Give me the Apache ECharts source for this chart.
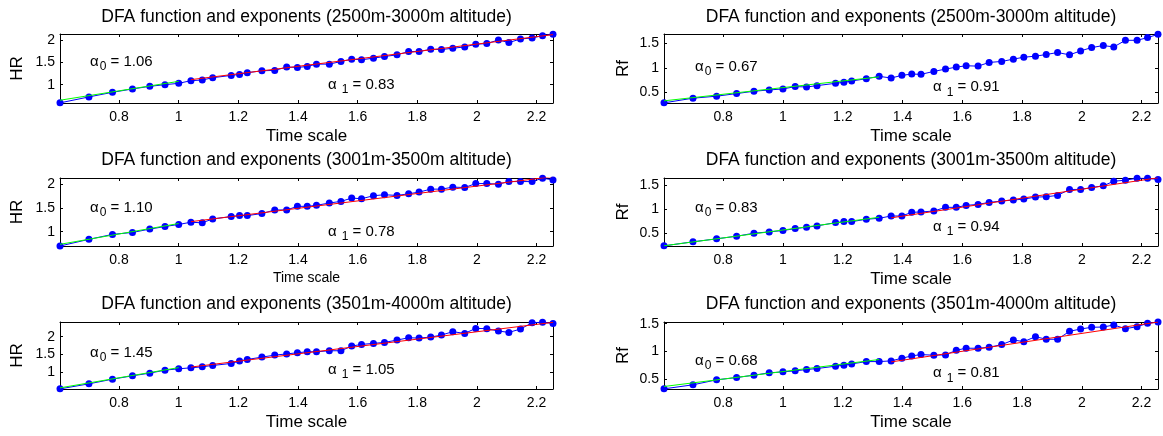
<!DOCTYPE html>
<html>
<head>
<meta charset="utf-8">
<title>DFA function and exponents</title>
<script src="https://cdn.jsdelivr.net/npm/echarts@6/dist/echarts.min.js"></script>
<style>
  html, body { margin: 0; padding: 0; background: #fff; }
  #chart { width: 1163px; height: 436px; }
</style>
</head>
<body>
<div id="chart"></div>
<script>
// log10 of the DFA box sizes (n = 4 ... 180)
const timeScale = [
  0.602, 0.699, 0.778, 0.845, 0.903, 0.954, 1.000, 1.041, 1.079, 1.114,
  1.176, 1.204, 1.230, 1.279, 1.322, 1.362, 1.398, 1.431, 1.462, 1.505,
  1.544, 1.580, 1.613, 1.653, 1.690, 1.732, 1.771, 1.806, 1.845, 1.881,
  1.919, 1.959, 1.996, 2.033, 2.072, 2.107, 2.146, 2.185, 2.220, 2.255
];
const xTicks = [0.8, 1, 1.2, 1.4, 1.6, 1.8, 2, 2.2];

// log10 F(n), heart rate
const hr2500 = [
  0.593, 0.726, 0.829, 0.904, 0.963, 1.000, 1.030, 1.089, 1.104, 1.156,
  1.207, 1.230, 1.267, 1.311, 1.319, 1.393, 1.385, 1.407, 1.459, 1.459,
  1.518, 1.570, 1.556, 1.593, 1.630, 1.667, 1.740, 1.740, 1.793, 1.785,
  1.815, 1.844, 1.904, 1.919, 2.000, 1.941, 2.022, 2.044, 2.096, 2.126
];
const hr3001 = [
  0.700, 0.840, 0.944, 0.985, 1.055, 1.110, 1.153, 1.200, 1.187, 1.270,
  1.319, 1.340, 1.340, 1.382, 1.458, 1.458, 1.534, 1.534, 1.555, 1.604,
  1.638, 1.708, 1.694, 1.757, 1.778, 1.763, 1.798, 1.833, 1.896, 1.896,
  1.938, 1.930, 2.013, 2.013, 2.000, 2.055, 2.055, 2.055, 2.125, 2.090
];
const hr3501 = [
  0.514, 0.657, 0.790, 0.886, 0.962, 1.048, 1.086, 1.114, 1.143, 1.181,
  1.238, 1.305, 1.352, 1.419, 1.476, 1.510, 1.543, 1.571, 1.571, 1.600,
  1.600, 1.733, 1.781, 1.810, 1.838, 1.905, 1.971, 1.962, 1.990, 2.048,
  2.143, 2.095, 2.238, 2.229, 2.162, 2.124, 2.219, 2.400, 2.415, 2.380
];

// log10 F(n), respiratory frequency
const rf2500 = [
  0.293, 0.387, 0.427, 0.480, 0.527, 0.553, 0.573, 0.620, 0.613, 0.640,
  0.687, 0.707, 0.733, 0.780, 0.827, 0.793, 0.847, 0.873, 0.867, 0.927,
  0.973, 1.013, 1.040, 1.033, 1.107, 1.127, 1.173, 1.213, 1.233, 1.267,
  1.307, 1.260, 1.340, 1.407, 1.447, 1.420, 1.553, 1.553, 1.607, 1.673
];
const rf3001 = [
  0.228, 0.313, 0.375, 0.430, 0.493, 0.521, 0.549, 0.590, 0.618, 0.646,
  0.715, 0.736, 0.736, 0.785, 0.806, 0.854, 0.854, 0.931, 0.938, 0.958,
  1.035, 1.035, 1.076, 1.097, 1.139, 1.167, 1.188, 1.208, 1.250, 1.257,
  1.285, 1.410, 1.410, 1.451, 1.486, 1.583, 1.604, 1.645, 1.645, 1.618
];
const rf3501 = [
  0.318, 0.391, 0.481, 0.523, 0.566, 0.608, 0.626, 0.644, 0.668, 0.686,
  0.729, 0.747, 0.770, 0.812, 0.812, 0.825, 0.873, 0.915, 0.939, 0.928,
  0.933, 1.018, 1.054, 1.054, 1.072, 1.120, 1.204, 1.174, 1.264, 1.217,
  1.217, 1.361, 1.403, 1.434, 1.439, 1.476, 1.409, 1.445, 1.506, 1.528
];

// scaling exponents and the intercepts of the fitted lines
const alpha0 = [1.06, 1.10, 1.45, 0.67, 0.83, 0.68];
const alpha1 = [0.83, 0.78, 1.05, 0.91, 0.94, 0.81];
const intercept0 = [0.014, 0.073, -0.330, -0.070, -0.270, -0.049];
const intercept1 = [0.248, 0.400, 0.042, null, -0.465, -0.297];
// fitting ranges on the time scale axis
const range0 = [[0.602, 1.000], [0.602, 1.000], [0.602, 1.000], [0.602, 1.322], [0.602, 1.322], [0.602, 1.322]];
const range1 = [[1.041, 2.255], [1.041, 2.255], [1.041, 2.255], null, [1.362, 2.255], [1.362, 2.255]];

const titles = [
  'DFA function and exponents (2500m-3000m altitude)',
  'DFA function and exponents (3001m-3500m altitude)',
  'DFA function and exponents (3501m-4000m altitude)',
  'DFA function and exponents (2500m-3000m altitude)',
  'DFA function and exponents (3001m-3500m altitude)',
  'DFA function and exponents (3501m-4000m altitude)'
];
const yNames = ['HR', 'HR', 'HR', 'Rf', 'Rf', 'Rf'];
const series = [hr2500, hr3001, hr3501, rf2500, rf3001, rf3501];
const yTicks = [[1, 1.5, 2], [1, 1.5, 2], [1, 1.5, 2], [0.5, 1, 1.5], [0.5, 1, 1.5], [0.5, 1, 1.5]];
const yRange = [[0.59, 2.133], [0.70, 2.13], [0.51, 2.42], [0.29, 1.68], [0.225, 1.65], [0.315, 1.53]];

// ---- layout ----
const FONT = '"Liberation Sans", Arial, Helvetica, sans-serif';
const layout = {
  cols: [{ left: 60, width: 493 }, { left: 664, width: 494 }],
  rows: [{ top: 34, height: 69 }, { top: 178, height: 68 }, { top: 322, height: 67 }],
  titleY: [17, 160, 304],
  titleSize: 17.5,
  xNameSize: [17, 14, 17, 17, 17, 17],
  yNameGap: [34, 32],
  label0: [[90, 62], [90, 207.7], [90, 352.7], [695, 66.7], [695, 207.7], [695, 361]],
  label1: [[328, 85], [328, 231.7], [328, 370], [933, 87.3], [933, 226.7], [933, 373.3]]
};

const grid = [], xAxis = [], yAxis = [], seriesList = [], graphic = [];

for (let i = 0; i < 6; i++) {
  const col = layout.cols[Math.floor(i / 3)];
  const row = layout.rows[i % 3];
  grid.push({ left: col.left, top: row.top, width: col.width, height: row.height });

  const xMin = timeScale[0], xMax = timeScale[timeScale.length - 1];
  const tickCommon = { show: true, inside: true, length: 3, lineStyle: { color: '#000', width: 1 } };
  const lineCommon = { show: true, onZero: false, lineStyle: { color: '#000', width: 1 } };

  xAxis.push({
    type: 'value', gridIndex: i, position: 'bottom', min: xMin, max: xMax,
    name: 'Time scale', nameLocation: 'middle', nameGap: 25,
    nameTextStyle: { fontFamily: FONT, fontSize: layout.xNameSize[i], color: '#000' },
    axisLine: lineCommon,
    axisTick: Object.assign({ customValues: xTicks }, tickCommon),
    axisLabel: { customValues: xTicks, margin: 7, fontFamily: FONT, fontSize: 14, color: '#000' },
    splitLine: { show: false }
  });
  xAxis.push({
    type: 'value', gridIndex: i, position: 'top', min: xMin, max: xMax,
    axisLine: lineCommon,
    axisTick: Object.assign({ customValues: xTicks }, tickCommon),
    axisLabel: { show: false },
    splitLine: { show: false }
  });

  yAxis.push({
    type: 'value', gridIndex: i, position: 'left', min: yRange[i][0], max: yRange[i][1],
    name: yNames[i], nameLocation: 'middle', nameGap: layout.yNameGap[Math.floor(i / 3)],
    nameTextStyle: { fontFamily: FONT, fontSize: 17, color: '#000' },
    axisLine: lineCommon,
    axisTick: Object.assign({ customValues: yTicks[i] }, tickCommon),
    axisLabel: { customValues: yTicks[i], margin: 5, fontFamily: FONT, fontSize: 14, color: '#000' },
    splitLine: { show: false }
  });
  yAxis.push({
    type: 'value', gridIndex: i, position: 'right', min: yRange[i][0], max: yRange[i][1],
    axisLine: lineCommon,
    axisTick: Object.assign({ customValues: yTicks[i] }, tickCommon),
    axisLabel: { show: false },
    splitLine: { show: false }
  });

  const xi = 2 * i, yi = 2 * i;

  // DFA function
  seriesList.push({
    type: 'line', xAxisIndex: xi, yAxisIndex: yi,
    data: timeScale.map((x, k) => [x, series[i][k]]),
    symbol: 'circle', symbolSize: 7, showSymbol: true,
    lineStyle: { color: '#0000ff', width: 1 },
    itemStyle: { color: '#0000ff' },
    animation: false, silent: true, z: 2
  });

  // short-term fit (alpha 0)
  seriesList.push({
    type: 'line', xAxisIndex: xi, yAxisIndex: yi,
    data: range0[i].map(x => [x, intercept0[i] + alpha0[i] * x]),
    symbol: 'none', lineStyle: { color: '#00ff00', width: 1 },
    animation: false, silent: true, z: 3
  });

  // long-term fit (alpha 1)
  if (range1[i]) {
    seriesList.push({
      type: 'line', xAxisIndex: xi, yAxisIndex: yi,
      data: range1[i].map(x => [x, intercept1[i] + alpha1[i] * x]),
      symbol: 'none', lineStyle: { color: '#ff0000', width: 1 },
      animation: false, silent: true, z: 3
    });
  }

  // panel title
  graphic.push({
    type: 'text', x: col.left + col.width / 2, y: layout.titleY[i % 3],
    style: { text: titles[i], fill: '#000', font: layout.titleSize + 'px ' + FONT, align: 'center', verticalAlign: 'middle' }
  });

  // exponent annotations
  const rich = {
    a: { fontFamily: FONT, fontSize: 15, color: '#000' },
    s: { fontFamily: FONT, fontSize: 12, color: '#000', padding: [10, 0, 0, 1] },
    s1: { fontFamily: FONT, fontSize: 12, color: '#000', padding: [10, 0, 0, 5] },
    t: { fontFamily: FONT, fontSize: 15, color: '#000' }
  };
  graphic.push({
    type: 'text', x: layout.label0[i][0], y: layout.label0[i][1],
    style: {
      text: '{a|α}{s|0}{t| = ' + alpha0[i].toFixed(2) + '}',
      rich: rich, fill: '#000', verticalAlign: 'middle', align: 'left'
    }
  });
  graphic.push({
    type: 'text', x: layout.label1[i][0], y: layout.label1[i][1],
    style: {
      text: '{a|α}{s1|1}{t| = ' + alpha1[i].toFixed(2) + '}',
      rich: rich, fill: '#000', verticalAlign: 'middle', align: 'left'
    }
  });
}

const chart = echarts.init(document.getElementById('chart'), null, { renderer: 'canvas' });
chart.setOption({
  backgroundColor: '#fff',
  animation: false,
  grid: grid,
  xAxis: xAxis,
  yAxis: yAxis,
  series: seriesList,
  graphic: graphic
});
</script>
</body>
</html>
